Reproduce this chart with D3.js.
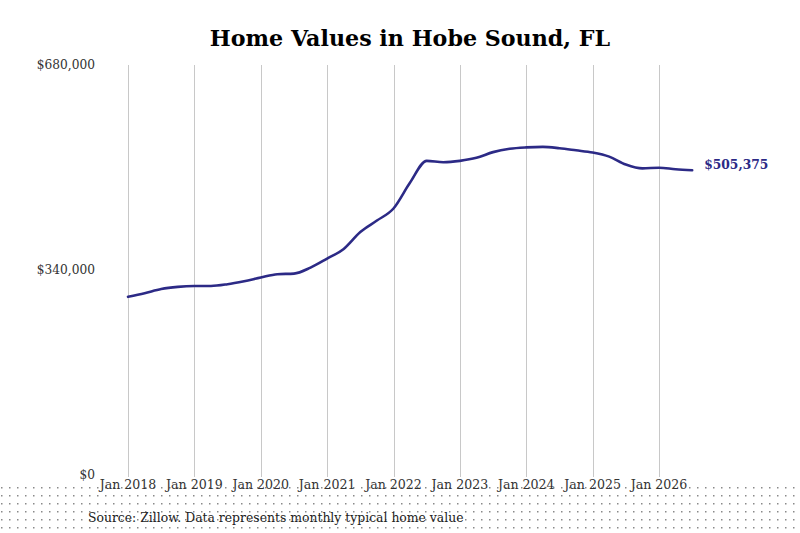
<!DOCTYPE html>
<html lang="en">
<head>
    <meta charset="UTF-8"/>
    <title>Home Values in Hobe Sound, FL</title>
    <script src="https://d3js.org/d3.v7.min.js"></script>
    <style>
        html, body { margin: 0; padding: 0; background: #fff; }
        text { font-family: "DejaVu Serif", serif; }
        .grid line { stroke: #c8c8c8; stroke-width: 1px; shape-rendering: crispEdges; }
    </style>
</head>
<body>
<div id="chart"></div>
<script>
    // monthly typical home value, sampled every quarter (Jan 2018 .. Jul 2026)
    const months = [0, 3, 6, 9, 12, 15, 18, 21, 24, 27, 30, 33, 36, 39, 42, 45, 48, 51,
        54, 57, 60, 63, 66, 69, 72, 75, 78, 81, 84, 87, 90, 93, 96, 99, 102];
    const values = [295500, 301500, 308500, 312000, 313400, 313500, 316500, 321500, 327500,
        333000, 334000, 344000, 359000, 375000, 403000, 422000, 442000, 485000,
        521000, 518800, 521000, 526000, 535500, 541000, 543300, 544200, 542000,
        538500, 534800, 528000, 515000, 508500, 509700, 507000, 505375];
    const yearTicks = [2018, 2019, 2020, 2021, 2022, 2023, 2024, 2025, 2026];
    const valueTicks = [0, 340000, 680000];
    const lastLabel = "$505,375";

    const W = 800, H = 533;
    const svg = d3.select("#chart").append("svg")
        .attr("width", W).attr("height", H);

    // dotted footer band
    const defs = svg.append("defs");
    const pat = defs.append("pattern")
        .attr("id", "dots").attr("patternUnits", "userSpaceOnUse")
        .attr("x", 1).attr("y", 487).attr("width", 8).attr("height", 8);
    pat.append("rect").attr("x", 0).attr("y", 0).attr("width", 1.5).attr("height", 1.5)
        .attr("fill", "#8a8a8a");
    svg.append("rect").attr("x", 0).attr("y", 486).attr("width", W).attr("height", H - 486)
        .attr("fill", "url(#dots)");

    const x = d3.scaleLinear().domain([2018, 2026]).range([128, 659]);
    const y = d3.scaleLinear().domain([0, 680000]).range([475, 65]);

    // vertical grid
    svg.append("g").attr("class", "grid")
        .selectAll("line").data(yearTicks).join("line")
        .attr("x1", d => Math.round(x(d)) + 0.5).attr("x2", d => Math.round(x(d)) + 0.5)
        .attr("y1", 65).attr("y2", 477);

    // y labels
    svg.append("g").selectAll("text").data(valueTicks).join("text")
        .attr("x", 95).attr("y", d => y(d))
        .attr("text-anchor", "end").attr("dominant-baseline", "middle")
        .attr("fill", "#333").style("font-size", "12.2px")
        .text(d => "$" + d3.format(",")(d));

    // x labels
    svg.append("g").selectAll("text").data(yearTicks).join("text")
        .attr("x", d => x(d)).attr("y", 489)
        .attr("text-anchor", "middle")
        .attr("fill", "#333").style("font-size", "12.6px")
        .text(d => "Jan " + d);

    // line
    const pts = months.map((m, i) => ({m: m, v: values[i]}));
    svg.append("path").datum(pts)
        .attr("fill", "none").attr("stroke", "#2c2a86").attr("stroke-width", 2.6)
        .attr("stroke-linejoin", "round").attr("stroke-linecap", "round")
        .attr("d", d3.line()
            .x(d => x(2018 + d.m / 12))
            .y(d => y(d.v))
            .curve(d3.curveMonotoneX));

    // end label
    const last = pts[pts.length - 1];
    svg.append("text")
        .attr("x", x(2018 + last.m / 12) + 12).attr("y", y(last.v) - 5)
        .attr("dominant-baseline", "middle")
        .attr("fill", "#2c2a86").style("font-size", "12.3px").style("font-weight", "bold")
        .text(lastLabel);

    // title
    svg.append("text")
        .attr("x", 410).attr("y", 46).attr("text-anchor", "middle")
        .attr("fill", "#000").style("font-size", "22.2px").style("font-weight", "bold")
        .text("Home Values in Hobe Sound, FL");

    // source
    svg.append("text")
        .attr("x", 88).attr("y", 522)
        .attr("fill", "#222").style("font-size", "12.4px")
        .text("Source: Zillow. Data represents monthly typical home value");
</script>
</body>
</html>
